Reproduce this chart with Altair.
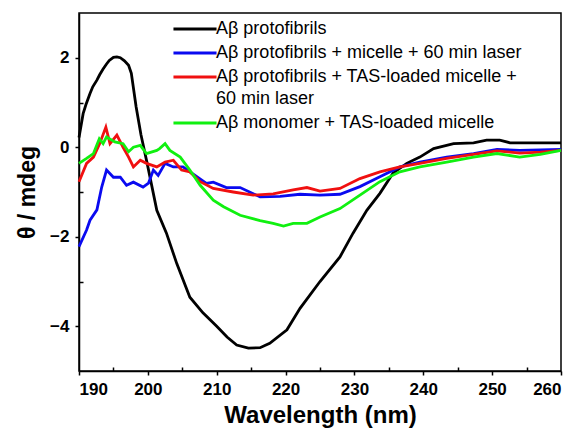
import altair as alt
import pandas as pd

S1 = "Aβ protofibrils"
S2 = "Aβ protofibrils + micelle + 60 min laser"
S3 = "Aβ protofibrils + TAS-loaded micelle +|60 min laser"
S4 = "Aβ monomer + TAS-loaded micelle"
series_names = [S1, S2, S3, S4]
series_colors = ["#000000", "#0a0af0", "#f01010", "#10f010"]

black_wl = [190, 190.6, 191, 191.6, 192, 192.6, 193, 193.5, 194, 194.4, 195, 195.5, 196, 196.6, 197.2,
            197.6, 198.3, 199, 199.9, 201.3, 202.7, 204.2, 206.1, 208, 210, 211.5, 212.9, 214.6,
            216.3, 217.7, 220.2, 222.1, 225, 227.9, 229.8, 231.8, 233.7, 235.6, 237.6, 239.5,
            241.5, 244.4, 247.3, 249.2, 251.1, 252.6, 260]
black_v = [0.22, 0.75, 0.95, 1.2, 1.35, 1.5, 1.62, 1.75, 1.86, 1.94, 2.01, 2.02, 2.0, 1.93, 1.83,
           1.65, 0.9, 0.28, -0.36, -1.41, -1.92, -2.6, -3.35, -3.7, -4.0, -4.24, -4.42, -4.49,
           -4.48, -4.38, -4.08, -3.6, -3.0, -2.45, -1.92, -1.41, -1.03, -0.58, -0.36, -0.22,
           -0.03, 0.08, 0.1, 0.16, 0.16, 0.1, 0.1]

blue_wl = [190, 191.1, 191.6, 192.6, 193.3, 194.0, 195.0, 196.0, 196.9, 197.9, 199.3, 200.1, 200.8,
           201.5, 202.5, 203.7, 205.1, 206.6, 208.5, 209.5, 211.4, 213.4, 216.3, 219.2, 222.1,
           225.0, 227.9, 230.8, 233.7, 236.6, 239.5, 243.4, 247.3, 250.7, 254.0, 257, 260]
blue_v = [-2.22, -1.85, -1.63, -1.4, -0.89, -0.51, -0.67, -0.67, -0.85, -0.78, -0.89, -0.8, -0.51,
          -0.63, -0.36, -0.44, -0.44, -0.6, -0.81, -0.78, -0.9, -0.9, -1.11, -1.1, -1.05,
          -1.07, -1.05, -0.88, -0.66, -0.44, -0.33, -0.22, -0.14, -0.05, -0.07, -0.06, -0.05]

red_wl = [190, 191.1, 192.1, 193.0, 193.9, 194.5, 195.5, 196.4, 197.2, 197.9, 198.9, 199.8, 201.3,
          202.5, 203.7, 204.9, 206.1, 207.6, 209.5, 212.4, 215.3, 218.2, 221.1, 223.1, 225.0,
          227.9, 230.8, 233.7, 236.6, 239.5, 243.4, 247.3, 250.7, 254.0, 257, 260]
red_v = [-0.77, -0.36, -0.22, 0.08, 0.45, 0.08, 0.27, 0.0, -0.22, -0.44, -0.29, -0.36, -0.44,
         -0.33, -0.29, -0.51, -0.55, -0.77, -0.92, -1.0, -1.07, -1.04, -0.95, -0.9, -0.98,
         -0.92, -0.7, -0.55, -0.44, -0.36, -0.25, -0.16, -0.08, -0.13, -0.11, -0.07]

green_wl = [190, 191.1, 192.1, 192.95, 193.5, 194.0, 195.2, 196.4, 197.2, 197.9, 198.9, 199.8,
            201.3, 201.7, 202.5, 203.2, 204.7, 206.1, 207.6, 209.5, 211.0, 213.4, 216.3, 218.2,
            219.7, 221.1, 223.1, 225.0, 227.9, 230.8, 233.7, 236.6, 239.5, 243.4, 247.3, 250.7,
            254.0, 257, 260]
green_v = [-0.36, -0.25, -0.14, 0.19, 0.08, 0.23, 0.12, 0.08, -0.1, 0.0, 0.04, -0.14,
           -0.07, -0.03, 0.08, -0.07, -0.22, -0.51, -0.85, -1.18, -1.33, -1.52, -1.64, -1.7,
           -1.76, -1.7, -1.7, -1.56, -1.37, -1.07, -0.77, -0.55, -0.44, -0.33, -0.22, -0.14,
           -0.22, -0.16, -0.07]

x_ticks = [190, 195, 200, 205, 210, 215, 220, 225, 230, 235, 240, 245, 250, 255, 260]
y_ticks = [-4, -3, -2, -1, 0, 1, 2]

frames = []
for name, wl, v in [(S1, black_wl, black_v), (S2, blue_wl, blue_v),
                    (S3, red_wl, red_v), (S4, green_wl, green_v)]:
    frames.append(pd.DataFrame({"wl": wl, "theta": v, "series": name}))
df = pd.concat(frames, ignore_index=True)

FONT = "Liberation Sans"

chart = alt.Chart(df).mark_line(strokeWidth=2.8, interpolate="linear").encode(
    x=alt.X("wl:Q", title="Wavelength (nm)",
            scale=alt.Scale(domain=[190, 260], nice=False, zero=False),
            axis=alt.Axis(values=x_ticks, grid=False,
                          labelExpr="datum.value % 10 === 0 ? datum.label : ''",
                          tickSize={"condition": {"test": "datum.value % 10 === 0", "value": 4}, "value": -4},
                          labelPadding=6, titlePadding=6)),
    y=alt.Y("theta:Q", title="θ / mdeg",
            scale=alt.Scale(domain=[-5, 3], nice=False, zero=False),
            axis=alt.Axis(values=y_ticks, grid=False,
                          labelExpr="datum.value % 2 === 0 ? datum.label : ''",
                          tickSize={"condition": {"test": "datum.value % 2 === 0", "value": 4}, "value": -4},
                          labelPadding=6, titlePadding=10)),
    color=alt.Color("series:N", sort=series_names,
                    scale=alt.Scale(domain=series_names, range=series_colors),
                    legend=alt.Legend(title=None, orient="none", legendX=107, legendY=7,
                                      symbolType="M-4,0H4", symbolSize=116, symbolStrokeWidth=3,
                                      labelExpr="split(datum.label, '|')",
                                      labelFont=FONT, labelFontSize=18, labelLimit=500,
                                      labelOffset=12, rowPadding=6, padding=0)),
).properties(
    width=482, height=358,
    padding={"left": 8, "top": 5, "right": 5, "bottom": 5},
).configure(
    style={"guide-label": {"lineHeight": 22}}
).configure_view(
    stroke="black", strokeWidth=1.5
).configure_axis(
    domainColor="black", domainWidth=1.5, tickColor="black", tickWidth=1.5,
    labelFont=FONT, labelFontSize=17, labelFontWeight="bold", labelColor="black",
    titleFont=FONT, titleFontSize=24, titleFontWeight="bold", titleColor="black",
).configure_axisY(
    titleFontSize=23
)

chart.save("out.html", embed_options={"renderer": "svg", "actions": False})
